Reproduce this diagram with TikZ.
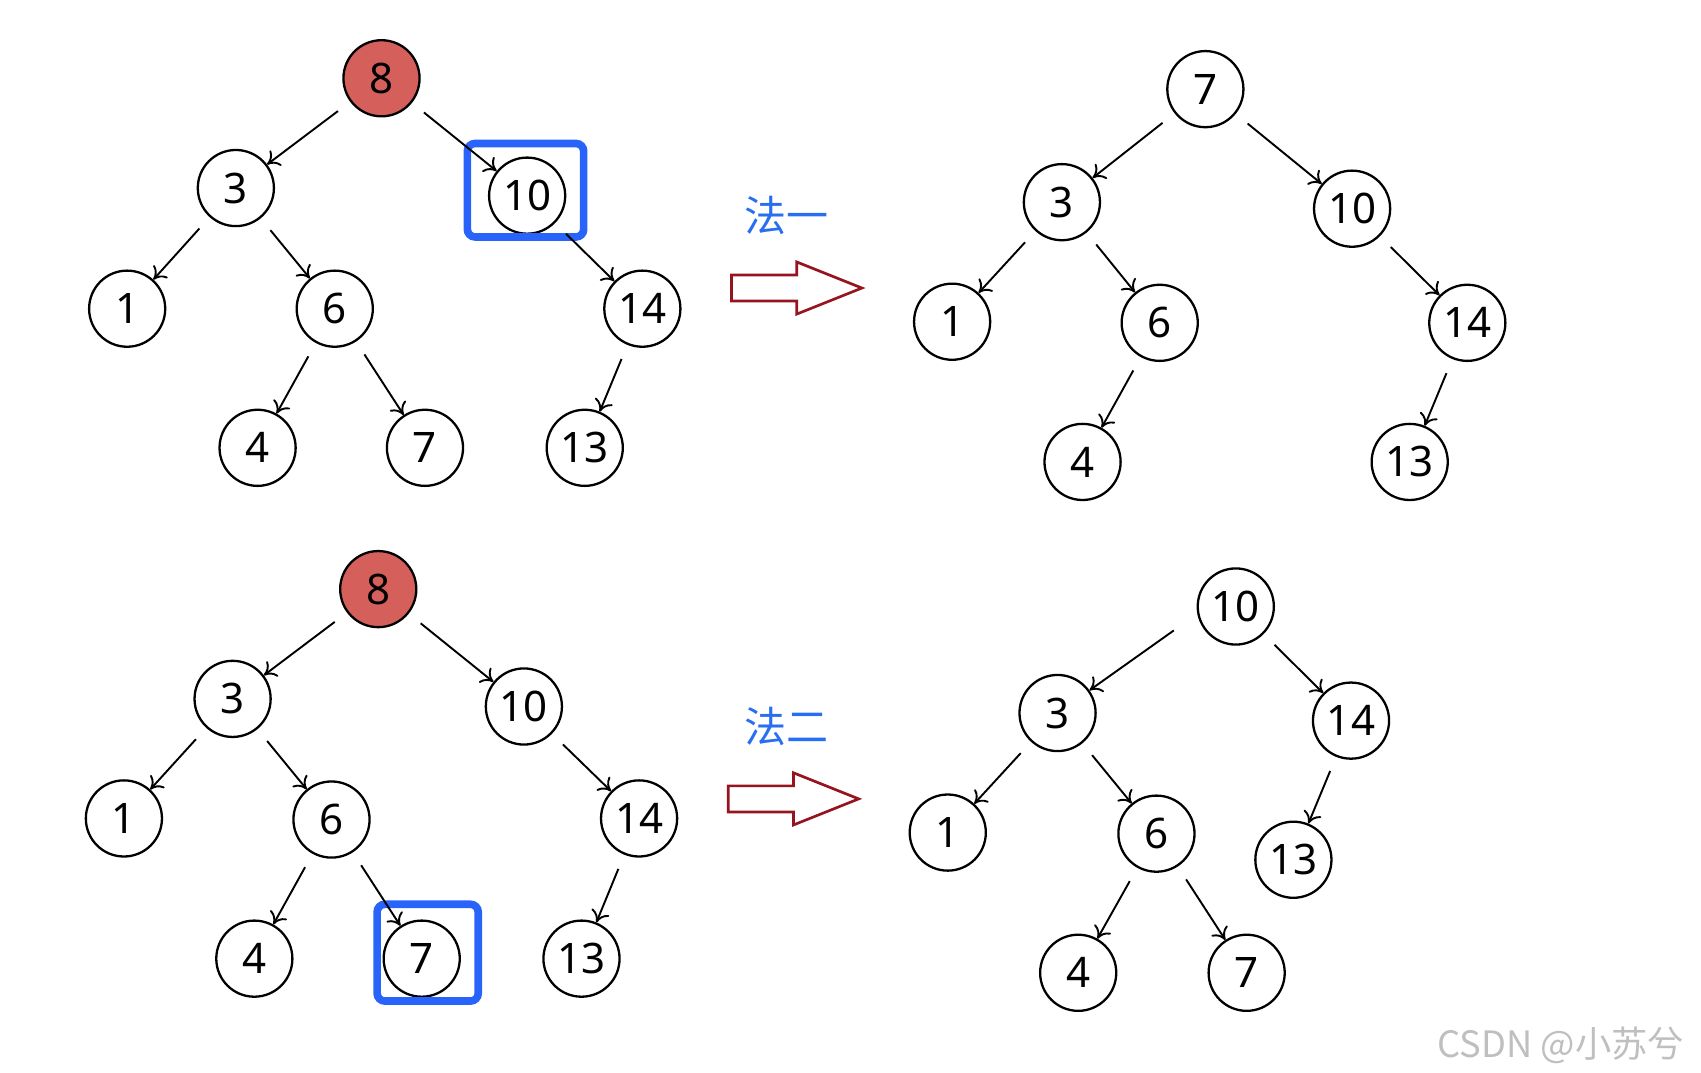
\documentclass[tikz,border=0pt]{standalone}
\usepackage{fontspec}
\setmainfont{Noto Sans}
\newfontfamily\cjk{Noto Sans CJK SC}
\usetikzlibrary{arrows.meta}
\begin{document}
\begin{tikzpicture}[x=0.01cm,y=-0.01cm,
  n/.style={circle,draw,line width=0.6pt,minimum size=0.7cm,inner sep=0pt,font=\fontsize{11}{11}\selectfont},
  red/.style={n,fill={rgb,255:red,212;green,95;blue,91}},
  e/.style={-{To[length=3pt,width=5pt]},line width=0.5pt,shorten <=4pt},
  box/.style={draw={rgb,255:red,40;green,100;blue,250},line width=2pt,rounded corners=2pt},
  lab/.style={font=\cjk\fontsize{11}{11}\selectfont,text={rgb,255:red,40;green,110;blue,240}},
  bigarr/.style={draw={rgb,255:red,150;green,20;blue,30},line width=0.7pt}]
\useasboundingbox (0,0) rectangle (1565,987);
% tree 1
\node[red] (a8) at (351,72) {8};
\node[n] (a3) at (217,173) {3};
\node[n] (a10) at (485,180) {10};
\node[n] (a1) at (117,284) {1};
\node[n] (a6) at (308,284) {6};
\node[n] (a14) at (591,284) {14};
\node[n] (a4) at (237,412) {4};
\node[n] (a7) at (391,412) {7};
\node[n] (a13) at (538,412) {13};
\draw[box] (430,132) rectangle (537,218);
\foreach \u/\v in {a8/a3,a8/a10,a3/a1,a3/a6,a10/a14,a6/a4,a6/a7,a14/a13} \draw[e] (\u) -- (\v);
\draw[bigarr] (673,253) -- (733,253) -- (733,241) -- (793,265) -- (733,289) -- (733,277) -- (673,277) -- cycle;
\node[lab] (l1) at (724,198) {法一};
% tree 2
\node[n] (b7) at (1109,82) {7};
\node[n] (b3) at (977,186) {3};
\node[n] (b10) at (1244,192) {10};
\node[n] (b1) at (876,296) {1};
\node[n] (b6) at (1067,297) {6};
\node[n] (b14) at (1350,297) {14};
\node[n] (b4) at (996,425) {4};
\node[n] (b13) at (1297,425) {13};
\foreach \u/\v in {b7/b3,b7/b10,b3/b1,b3/b6,b10/b14,b6/b4,b14/b13} \draw[e] (\u) -- (\v);
% tree 3
\node[red] (c8) at (348,542) {8};
\node[n] (c3) at (214,643) {3};
\node[n] (c10) at (482,650) {10};
\node[n] (c1) at (114,753) {1};
\node[n] (c6) at (305,754) {6};
\node[n] (c14) at (588,753) {14};
\node[n] (c4) at (234,882) {4};
\node[n] (c7) at (388,882) {7};
\node[n] (c13) at (535,882) {13};
\draw[box] (347,832) rectangle (440,921);
\foreach \u/\v in {c8/c3,c8/c10,c3/c1,c3/c6,c10/c14,c6/c4,c6/c7,c14/c13} \draw[e] (\u) -- (\v);
\draw[bigarr] (670,723) -- (730,723) -- (730,711) -- (790,735) -- (730,759) -- (730,747) -- (670,747) -- cycle;
\node[lab] (l2) at (724,668) {法二};
% tree 4
\node[n] (d10) at (1137,558) {10};
\node[n] (d3) at (973,656) {3};
\node[n] (d14) at (1243,663) {14};
\node[n] (d1) at (872,766) {1};
\node[n] (d6) at (1064,767) {6};
\node[n] (d13) at (1190,791) {13};
\node[n] (d4) at (992,895) {4};
\node[n] (d7) at (1147,895) {7};
\coordinate (dfree) at (1080,580);
\draw[e,shorten <=0pt] (dfree) -- (d3);
\foreach \u/\v in {d10/d14,d3/d1,d3/d6,d14/d13,d6/d4,d6/d7} \draw[e] (\u) -- (\v);
\node[font=\cjk\fontsize{9.5}{10}\selectfont,text=black!25,anchor=east] (wm) at (1562,962) {CSDN @小苏兮};
\end{tikzpicture}
\end{document}
